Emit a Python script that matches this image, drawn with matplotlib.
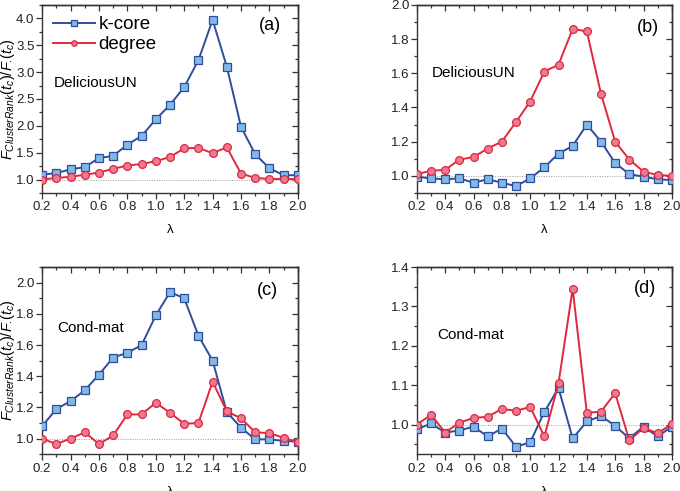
import matplotlib
matplotlib.use("Agg")
from matplotlib import pyplot as plt
from matplotlib.ticker import MultipleLocator, AutoMinorLocator

plt.rcParams["font.family"] = ["Liberation Sans", "DejaVu Sans"]
plt.rcParams["mathtext.fontset"] = "custom"
plt.rcParams["mathtext.rm"] = "Liberation Sans"
plt.rcParams["mathtext.it"] = "Liberation Sans:italic"

lam = [0.2, 0.3, 0.4, 0.5, 0.6, 0.7, 0.8, 0.9, 1.0, 1.1,
       1.2, 1.3, 1.4, 1.5, 1.6, 1.7, 1.8, 1.9, 2.0]

# (a) DeliciousUN
a_kcore = [1.09, 1.12, 1.19, 1.23, 1.40, 1.44, 1.65, 1.81, 2.12, 2.39,
           2.72, 3.22, 3.97, 3.10, 1.98, 1.47, 1.21, 1.08, 1.08]
a_degree = [1.00, 1.03, 1.05, 1.09, 1.13, 1.20, 1.26, 1.29, 1.34, 1.42,
            1.58, 1.59, 1.49, 1.60, 1.11, 1.03, 1.01, 1.01, 1.01]
# (b) DeliciousUN
b_kcore = [0.995, 0.985, 0.98, 0.985, 0.96, 0.98, 0.96, 0.94, 0.985, 1.05,
           1.13, 1.175, 1.30, 1.20, 1.075, 1.01, 0.995, 0.98, 0.975]
b_degree = [1.01, 1.03, 1.035, 1.095, 1.11, 1.16, 1.20, 1.315, 1.435, 1.61,
            1.65, 1.86, 1.845, 1.48, 1.20, 1.095, 1.025, 1.005, 1.0]
# (c) Cond-mat
c_kcore = [1.08, 1.19, 1.24, 1.31, 1.41, 1.52, 1.55, 1.60, 1.79, 1.94,
           1.90, 1.66, 1.50, 1.17, 1.07, 0.995, 0.995, 0.985, 0.98]
c_degree = [1.0, 0.965, 1.0, 1.04, 0.965, 1.02, 1.155, 1.155, 1.23, 1.165,
            1.095, 1.10, 1.365, 1.175, 1.13, 1.04, 1.035, 1.005, 0.975]
# (d) Cond-mat
d_kcore = [0.988, 1.003, 0.98, 0.985, 0.995, 0.97, 0.99, 0.944, 0.955, 1.032,
           1.093, 0.965, 1.008, 1.022, 0.997, 0.965, 0.995, 0.97, 0.995]
d_degree = [1.0, 1.025, 0.98, 1.005, 1.017, 1.02, 1.04, 1.035, 1.045, 0.97,
            1.105, 1.345, 1.03, 1.033, 1.08, 0.96, 0.992, 0.978, 1.002]

blue, blue_face = "#2e4d9c", "#80b8e8"
red, red_face = "#e0283c", "#ec7a92"
spine_c = "#333333"

fig = plt.figure(figsize=(6.8, 4.91), dpi=100)

panels = [
    # rect, kcore, degree, ylim, ymajor, tag, tag pos, name, name pos
    ([0.062, 0.607, 0.376, 0.383], a_kcore, a_degree, (0.75, 4.25), 0.5, "(a)", (0.89, 0.89), "DeliciousUN", (0.045, 0.585)),
    ([0.613, 0.607, 0.375, 0.383], b_kcore, b_degree, (0.9, 2.0), 0.2, "(b)", (0.905, 0.88), "DeliciousUN", (0.06, 0.64)),
    ([0.062, 0.075, 0.376, 0.381], c_kcore, c_degree, (0.9, 2.1), 0.2, "(c)", (0.88, 0.877), "Cond-mat", (0.058, 0.674)),
    ([0.613, 0.075, 0.375, 0.381], d_kcore, d_degree, (0.925, 1.4), 0.1, "(d)", (0.894, 0.888), "Cond-mat", (0.082, 0.636)),
]


def set_locators(axis, major):
    axis.set_major_locator(MultipleLocator(major))
    axis.set_minor_locator(AutoMinorLocator(2))


for i, (rect, kc, dg, ylim, ymaj, tag, tagpos, name, namepos) in enumerate(panels):
    ax = fig.add_axes(rect)
    ax.axhline(1.0, color="#999999", lw=0.7, ls=(0, (1, 1.5)), zorder=1)
    ax.plot(lam, kc, color=blue, lw=1.4, marker="s", ms=5.2, mfc=blue_face,
            mec=blue, mew=0.9, label="k-core", zorder=3)
    ax.plot(lam, dg, color=red, lw=1.4, marker="o", ms=5.6, mfc=red_face,
            mec=red, mew=0.9, label="degree", zorder=3)
    ax.set_xlim(0.2, 2.0)
    ax.set_ylim(*ylim)
    set_locators(ax.xaxis, 0.2)
    set_locators(ax.yaxis, ymaj)
    ax.xaxis.set_major_formatter(plt.FormatStrFormatter("%.1f"))
    ax.yaxis.set_major_formatter(plt.FormatStrFormatter("%.1f"))
    ax.tick_params(which="both", direction="out", labelsize=9.5, colors=spine_c,
                   labelcolor="#222222", width=0.9)
    ax.tick_params(axis="x", pad=2)
    ax.tick_params(axis="y", pad=1.5)
    ax.tick_params(which="major", length=4)
    ax.tick_params(which="minor", length=2.5)
    for s in ax.spines.values():
        s.set_color(spine_c)
        s.set_linewidth(1.0)

    # inward ticks on top and right
    top = ax.secondary_xaxis("top")
    right = ax.secondary_yaxis("right")
    set_locators(top.xaxis, 0.2)
    set_locators(right.yaxis, ymaj)
    for sec in (top, right):
        sec.tick_params(which="both", direction="in", colors=spine_c, width=0.9,
                        labeltop=False, labelright=False)
        sec.tick_params(which="major", length=4)
        sec.tick_params(which="minor", length=2.5)
        for s in sec.spines.values():
            s.set_color(spine_c)
            s.set_linewidth(1.0)

    ax.set_xlabel("λ", fontsize=9.5, labelpad=8)
    if i in (0, 2):
        ax.set_ylabel(r"$F_{ClusterRank}(t_c)/F_{\cdot}(t_c)$", fontsize=10.5)
        ax.yaxis.set_label_coords(-0.098, 0.5)
    ax.text(*tagpos, tag, transform=ax.transAxes, fontsize=13, ha="center", va="center")
    ax.text(*namepos, name, transform=ax.transAxes, fontsize=11, ha="left", va="center")
    if i == 0:
        ax.legend(loc="upper left", frameon=False, fontsize=13.5, handlelength=2.2,
                  handletextpad=0.2, borderaxespad=0.2, labelspacing=0.15,
                  markerscale=0.7)

plt.savefig("out.png", dpi=100)
